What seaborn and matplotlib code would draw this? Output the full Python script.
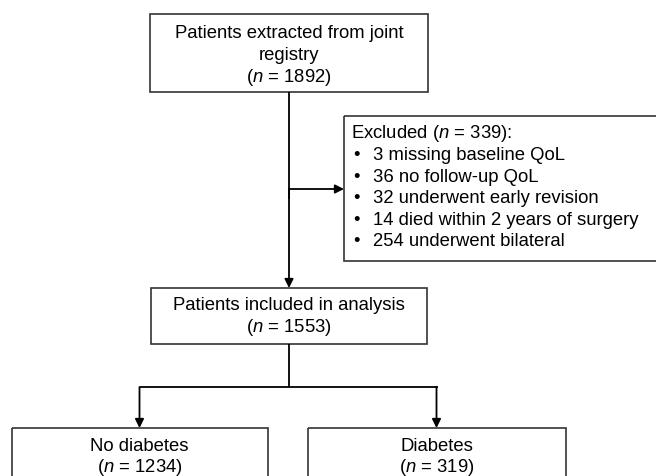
import matplotlib
matplotlib.use("Agg")
import matplotlib.pyplot as plt
import matplotlib.patches as mpatches
import seaborn as sns

# Данные блок-схемы
registry_n = 1892
included_n = 1553
excluded_n = 339
exclusion_counts = [3, 36, 32, 14, 254]
exclusion_reasons = ["missing baseline QoL", "no follow-up QoL",
                     "underwent early revision", "died within 2 years of surgery",
                     "underwent bilateral"]
group_labels = ["No diabetes", "Diabetes"]
group_n = [1234, 319]

sns.set_theme(style="white")
plt.rcParams['font.family'] = ['Liberation Sans', 'DejaVu Sans']
plt.rcParams['text.color'] = 'black'
plt.rcParams['mathtext.fontset'] = 'custom'
plt.rcParams['mathtext.rm'] = 'Liberation Sans'
plt.rcParams['mathtext.it'] = 'Liberation Sans:italic'

fig = plt.figure(figsize=(6.56, 4.77), dpi=100)
ax = fig.add_axes([0, 0, 1, 1])
ax.set_xlim(0, 656)
ax.set_ylim(477, 0)
ax.axis('off')

fs = 13.3
edge = '#333333'
lw = 1.2


def box(x0, y0, x1, y1):
    ax.add_patch(mpatches.Rectangle((x0, y0), x1 - x0, y1 - y0, fill=False,
                                    edgecolor=edge, lw=lw))


def line(xs, ys):
    ax.plot(xs, ys, color='black', lw=1.3, solid_capstyle='butt')


def arrow(x0, y0, x1, y1):
    ax.annotate('', xy=(x1, y1), xytext=(x0, y0),
                arrowprops=dict(arrowstyle='-|>', mutation_scale=13, lw=1.3,
                                color='black', shrinkA=0, shrinkB=0))


def n_text(n):
    return '($n$ = %d)' % n


# Верхний блок
box(150, 15, 428, 93)
for y, s in zip([33, 55, 77], ["Patients extracted from joint", "registry", n_text(registry_n)]):
    ax.text(289, y, s, ha='center', va='center', fontsize=fs)

# Исключённые
box(344, 117, 660, 262)
ax.text(351, 134, 'Excluded (%s):' % n_text(excluded_n)[1:-1], ha='left', va='center', fontsize=fs)
for i, (c, r) in enumerate(zip(exclusion_counts, exclusion_reasons)):
    y = 134 + 21.6 * (i + 1)
    ax.text(357, y, '\u2022', ha='center', va='center', fontsize=fs)
    ax.text(373, y, '%d %s' % (c, r), ha='left', va='center', fontsize=fs)

line([289, 289], [93, 200])
arrow(289, 190, 344, 190)
arrow(289, 190, 289, 289)

# Включённые
box(151, 289, 427, 345)
ax.text(289, 306, 'Patients included in analysis', ha='center', va='center', fontsize=fs)
ax.text(289, 328, n_text(included_n), ha='center', va='center', fontsize=fs)

# Ветвление
line([289, 289], [345, 388])
line([140, 438], [388, 388])
group_boxes = [(12, 268), (308, 566)]
for (x0, x1), lab, n in zip(group_boxes, group_labels, group_n):
    xc = (x0 + x1) / 2 - 0.5
    arrow(xc, 388, xc, 429)
    box(x0, 429, x1, 500)
    ax.text(xc, 447, lab, ha='center', va='center', fontsize=fs)
    ax.text(xc, 468, n_text(n), ha='center', va='center', fontsize=fs)

plt.savefig('out.png', dpi=100)
